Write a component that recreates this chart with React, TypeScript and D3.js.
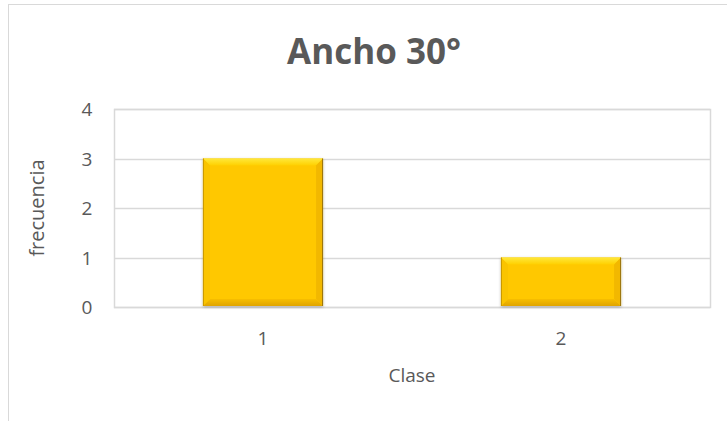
import React from "react";
import * as d3 from "d3";

// Frequency per class
const categories = ["1", "2"];
const frecuencias = [3, 1];
const yTicks = [0, 1, 2, 3, 4];

const W = 727;
const H = 421;
const plot = { left: 114, right: 710, top: 109, bottom: 307 };
const textColor = "#595959";
const gridColor = "#d9d9d9";
const font = "'Open Sans', 'Noto Sans', sans-serif";

export default function App() {
  const x = d3
    .scaleBand<string>()
    .domain(categories)
    .range([plot.left, plot.right])
    .paddingInner(0.597)
    .paddingOuter(0.2985);
  const y = d3.scaleLinear().domain([0, 4]).range([plot.bottom, plot.top]);

  const bev = 7;

  return (
    <svg
      width={W}
      height={H}
      style={{ position: "absolute", left: 0, top: 0, background: "#fff" }}
    >
      <defs>
        <filter id="barShadow" x="-10%" y="-10%" width="120%" height="120%">
          <feDropShadow dx="0" dy="1" stdDeviation="1.5" floodColor="#000" floodOpacity="0.3" />
        </filter>
        <linearGradient id="topBevel" x1="0" y1="0" x2="0" y2="1">
          <stop offset="0" stopColor="#ffe83a" />
          <stop offset="1" stopColor="#ffd000" />
        </linearGradient>
        <linearGradient id="bottomBevel" x1="0" y1="0" x2="0" y2="1">
          <stop offset="0" stopColor="#f7be00" />
          <stop offset="1" stopColor="#e0a400" />
        </linearGradient>
      </defs>

      {/* chart frame */}
      <rect x={8.5} y={4.5} width={W} height={H} fill="none" stroke={gridColor} strokeWidth={1} />

      {/* title */}
      <text
        x={374}
        y={64}
        textAnchor="middle"
        fontFamily={font}
        fontWeight={700}
        fontSize={35}
        fill={textColor}
      >
        Ancho 30°
      </text>

      {/* gridlines */}
      {yTicks.map((t) => (
        <line
          key={t}
          x1={plot.left}
          x2={plot.right}
          y1={Math.round(y(t)) + 0.5}
          y2={Math.round(y(t)) + 0.5}
          stroke={gridColor}
          strokeWidth={1.5}
        />
      ))}
      <rect
        x={plot.left + 0.5}
        y={plot.top + 0.5}
        width={plot.right - plot.left}
        height={plot.bottom - plot.top}
        fill="none"
        stroke={gridColor}
        strokeWidth={1.5}
      />

      {/* y tick labels */}
      {yTicks.map((t) => (
        <text
          key={t}
          x={87}
          y={y(t) + 7}
          textAnchor="middle"
          fontFamily={font}
          fontSize={19}
          fill={textColor}
        >
          {t}
        </text>
      ))}

      {/* bars with bevel */}
      {categories.map((c, i) => {
        const x0 = x(c)!;
        const x1 = x0 + x.bandwidth();
        const y0 = y(frecuencias[i]);
        const y1 = y(0) - 1;
        return (
          <g key={c}>
            <rect x={x0} y={y0} width={x1 - x0} height={y1 - y0} fill="#ffc800" filter="url(#barShadow)" />
            <polygon
              points={`${x0},${y0} ${x1},${y0} ${x1 - bev},${y0 + bev} ${x0 + bev},${y0 + bev}`}
              fill="url(#topBevel)"
            />
            <polygon
              points={`${x0},${y1} ${x1},${y1} ${x1 - bev},${y1 - bev} ${x0 + bev},${y1 - bev}`}
              fill="url(#bottomBevel)"
            />
            <polygon
              points={`${x0},${y0} ${x0 + bev},${y0 + bev} ${x0 + bev},${y1 - bev} ${x0},${y1}`}
              fill="#fac400"
            />
            <polygon
              points={`${x1},${y0} ${x1 - bev},${y0 + bev} ${x1 - bev},${y1 - bev} ${x1},${y1}`}
              fill="#f2b800"
            />
            <line x1={x0 + 0.5} x2={x0 + 0.5} y1={y0} y2={y1} stroke="#c89600" strokeWidth={1} />
            <line x1={x1 - 0.5} x2={x1 - 0.5} y1={y0} y2={y1} stroke="#9a7410" strokeWidth={1} />
          </g>
        );
      })}

      {/* x tick labels */}
      {categories.map((c) => (
        <text
          key={c}
          x={x(c)! + x.bandwidth() / 2}
          y={345}
          textAnchor="middle"
          fontFamily={font}
          fontSize={19}
          fill={textColor}
        >
          {c}
        </text>
      ))}

      {/* axis titles */}
      <text x={412} y={382} textAnchor="middle" fontFamily={font} fontSize={19} fill={textColor}>
        Clase
      </text>
      <text
        transform={`translate(44,208) rotate(-90)`}
        textAnchor="middle"
        fontFamily={font}
        fontSize={20}
        fill={textColor}
      >
        frecuencia
      </text>
    </svg>
  );
}
